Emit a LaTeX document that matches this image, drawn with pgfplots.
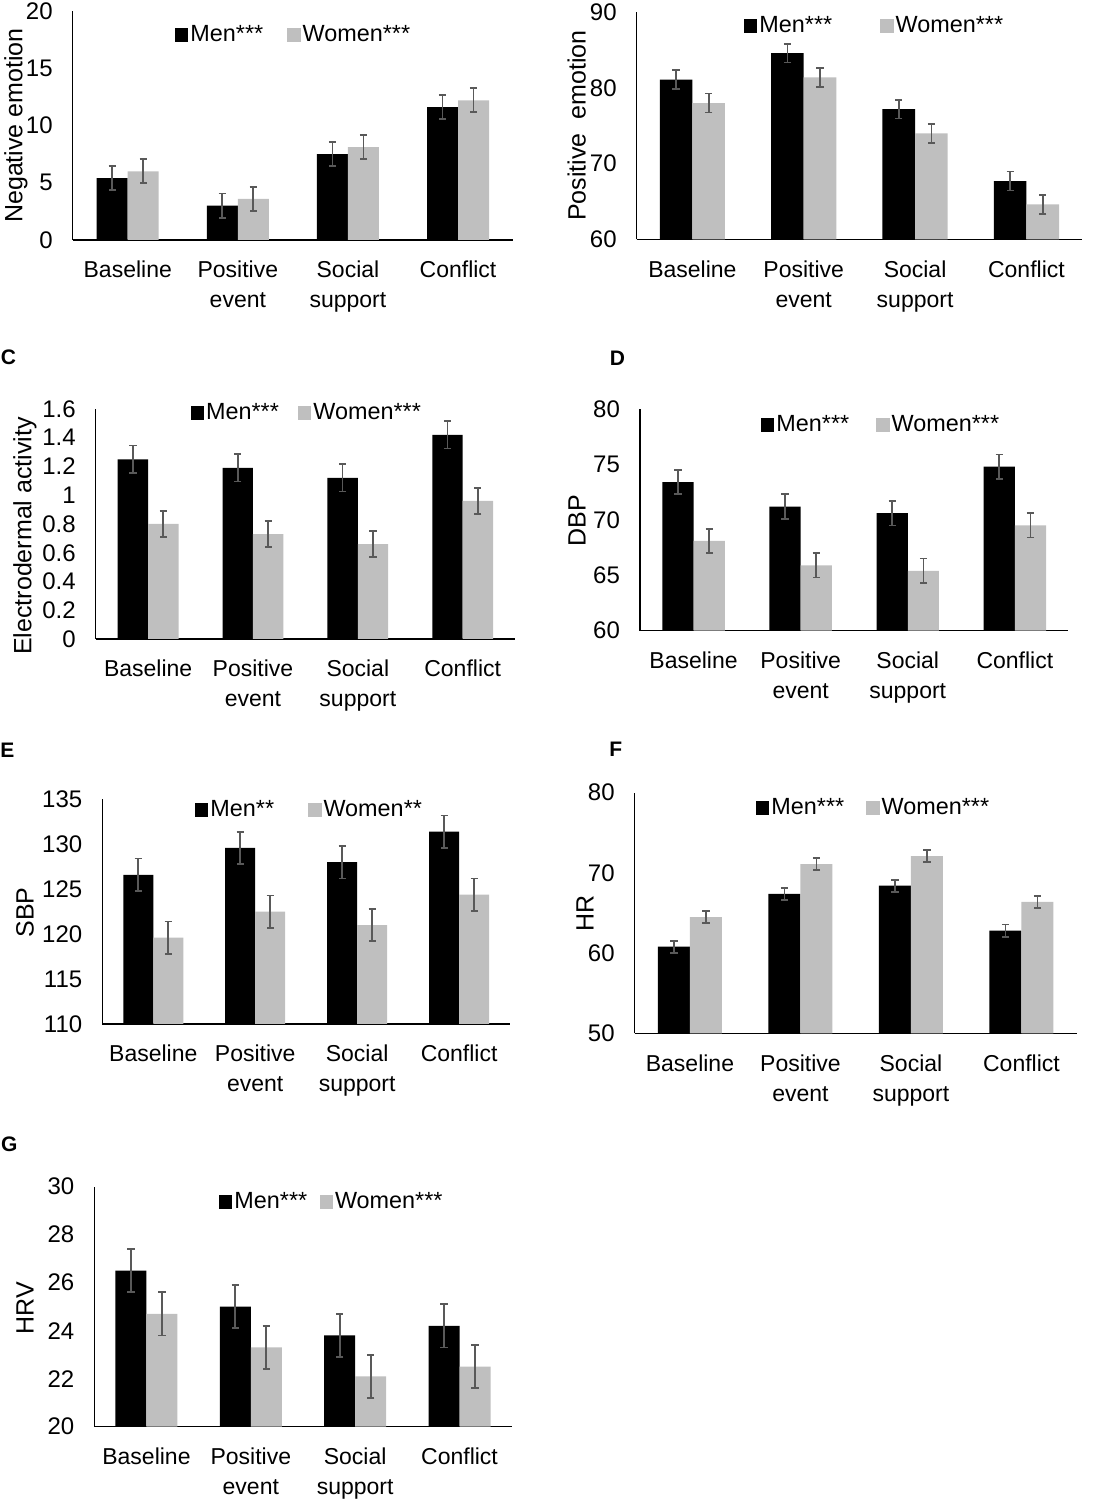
\documentclass[border=0pt]{standalone}
\usepackage{fontspec}
\setmainfont{Liberation Sans}
\usepackage{pgfplots}
\usepackage{pgfplotstable}
\pgfplotsset{compat=1.18}
\definecolor{wgray}{HTML}{BFBFBF}
\definecolor{egray}{HTML}{595959}

\pgfplotstableread{
x m me w we
0 5.4 1.05 6.0 1.05
1 3.0 1.05 3.6 1.05
2 7.5 1.05 8.1 1.05
3 11.6 1.05 12.2 1.05
}\tA
\pgfplotstableread{
x m me w we
0 81.1 1.25 78.0 1.25
1 84.6 1.25 81.4 1.25
2 77.2 1.25 74.0 1.25
3 67.7 1.25 64.6 1.25
}\tB
\pgfplotstableread{
x m me w we
0 1.25 0.095 0.80 0.09
1 1.19 0.095 0.73 0.09
2 1.12 0.095 0.66 0.09
3 1.42 0.095 0.96 0.09
}\tC
\pgfplotstableread{
x m me w we
0 73.4 1.1 68.1 1.1
1 71.2 1.1 65.9 1.1
2 70.6 1.1 65.4 1.1
3 74.8 1.1 69.5 1.1
}\tD
\pgfplotstableread{
x m me w we
0 126.6 1.8 119.6 1.8
1 129.6 1.8 122.5 1.8
2 128.0 1.8 121.0 1.8
3 131.4 1.8 124.4 1.8
}\tE
\pgfplotstableread{
x m me w we
0 60.8 0.75 64.5 0.75
1 67.4 0.75 71.1 0.75
2 68.4 0.75 72.1 0.75
3 62.8 0.75 66.4 0.75
}\tF
\pgfplotstableread{
x m me w we
0 26.5 0.9 24.7 0.9
1 25.0 0.9 23.3 0.9
2 23.8 0.9 22.1 0.9
3 24.2 0.9 22.5 0.9
}\tG

\pgfplotsset{
  sqlegend/.style={legend image code/.code={\fill[##1] (0pt,-3.5pt) rectangle (6.7pt,3.5pt);}},
  panel/.style={
    scale only axis,
    anchor=south west,
    ybar=0pt,
    sqlegend,
    axis x line*=bottom, axis y line*=left,
    axis line style={line width=0.6pt,-},
    xmin=-0.5, xmax=3.5,
    xtick={0,1,2,3},
    xticklabels={Baseline,{Positive\\event},{Social\\support},Conflict},
    major tick length=0pt,
    /pgf/number format/assume math mode=true,
    xticklabel style={align=center,font=\fontsize{11.5}{15}\selectfont,yshift=-7pt},
    yticklabel style={font=\fontsize{12}{14}\selectfont,xshift=-6.5pt},
    ylabel style={font=\fontsize{12.5}{15}\selectfont},
    legend columns=2,
    legend style={draw=none,fill=none,inner sep=0pt,outer sep=0pt,anchor=west,
      font=\fontsize{11.7}{14}\selectfont,nodes={inner ysep=0.5pt,inner xsep=1pt}},
  },
  ebar/.style={error bars/.cd, y dir=both, y explicit,
    error bar style={draw=egray,line width=0.85pt},
    error mark options={rotate=90,mark size=1.8pt,draw=egray,line width=0.85pt}},
  menbar/.style={fill=black,draw=none,sqlegend,ebar},
  wombar/.style={fill=wgray,draw=none,sqlegend,ebar},
}

\begin{document}
\begin{tikzpicture}
\useasboundingbox (0,0) rectangle (559pt,750pt);

% A
\begin{axis}[panel, at={(36.35pt,630pt)}, width=220.2pt, height=114.5pt,
  ymin=0, ymax=20, ytick={0,5,10,15,20}, bar width=15.5pt,
  ylabel={Negative emotion}, ylabel style={at={(axis description cs:-0.1288,0.5)},anchor=center},
  legend style={at={(0.2323,0.895)},/tikz/every even column/.append style={column sep=11pt}}]
\addplot[menbar] table[x=x,y=m,y error=me]{\tA};
\addlegendentry{Men***}
\addplot[wombar] table[x=x,y=w,y error=we]{\tA};
\addlegendentry{Women***}
\end{axis}

% B
\begin{axis}[panel, at={(318.35pt,630.35pt)}, width=222.7pt, height=113.5pt,
  ymin=60, ymax=90, ytick={60,70,80,90}, bar width=16.3pt,
  ylabel={Positive~~emotion}, ylabel style={at={(axis description cs:-0.1347,0.5)},anchor=center},
  legend style={at={(0.241,0.938)},/tikz/every even column/.append style={column sep=23pt}}]
\addplot[menbar] table[x=x,y=m,y error=me]{\tB};
\addlegendentry{Men***}
\addplot[wombar] table[x=x,y=w,y error=we]{\tB};
\addlegendentry{Women***}
\end{axis}

% C
\begin{axis}[panel, at={(47.85pt,430.5pt)}, width=209.7pt, height=115pt,
  ymin=0, ymax=1.6, ytick={0,0.2,0.4,0.6,0.8,1,1.2,1.4,1.6},
  yticklabels={0,0.2,0.4,0.6,0.8,1,1.2,1.4,1.6}, bar width=15.2pt,
  ylabel={Electrodermal activity}, ylabel style={at={(axis description cs:-0.1686,0.448)},anchor=center},
  legend style={at={(0.2266,0.9835)},/tikz/every even column/.append style={column sep=8.5pt}}]
\addplot[menbar] table[x=x,y=m,y error=me]{\tC};
\addlegendentry{Men***}
\addplot[wombar] table[x=x,y=w,y error=we]{\tC};
\addlegendentry{Women***}
\end{axis}

% D
\begin{axis}[panel, at={(320pt,434.65pt)}, width=214.2pt, height=110.85pt,
  ymin=60, ymax=80, ytick={60,65,70,75,80}, bar width=15.6pt,
  ylabel={DBP}, ylabel style={at={(axis description cs:-0.147,0.496)},anchor=center},
  legend style={at={(0.2825,0.927)},/tikz/every even column/.append style={column sep=12.5pt}}]
\addplot[menbar] table[x=x,y=m,y error=me]{\tD};
\addlegendentry{Men***}
\addplot[wombar] table[x=x,y=w,y error=we]{\tD};
\addlegendentry{Women***}
\end{axis}

% E
\begin{axis}[panel, at={(51.15pt,238pt)}, width=203.9pt, height=112.35pt,
  ymin=110, ymax=135, ytick={110,115,120,125,130,135}, bar width=15pt,
  ylabel={SBP}, ylabel style={at={(axis description cs:-0.1896,0.496)},anchor=center},
  legend style={at={(0.2274,0.952)},/tikz/every even column/.append style={column sep=16pt}}]
\addplot[menbar] table[x=x,y=m,y error=me]{\tE};
\addlegendentry{Men**}
\addplot[wombar] table[x=x,y=w,y error=we]{\tE};
\addlegendentry{Women**}
\end{axis}

% F
\begin{axis}[panel, at={(317.35pt,233.35pt)}, width=221pt, height=120.3pt,
  ymin=50, ymax=80, ytick={50,60,70,80}, bar width=16pt,
  ylabel={HR}, ylabel style={at={(axis description cs:-0.1124,0.4988)},anchor=center},
  legend style={at={(0.2744,0.937)},/tikz/every even column/.append style={column sep=10pt}}]
\addplot[menbar] table[x=x,y=m,y error=me]{\tF};
\addlegendentry{Men***}
\addplot[wombar] table[x=x,y=w,y error=we]{\tF};
\addlegendentry{Women***}
\end{axis}

% G
\begin{axis}[panel, at={(47.15pt,36.65pt)}, width=208.7pt, height=120pt,
  ymin=20, ymax=30, ytick={20,22,24,26,28,30}, bar width=15.5pt,
  ylabel={HRV}, ylabel style={at={(axis description cs:-0.166,0.4946)},anchor=center},
  legend style={at={(0.2988,0.935)},/tikz/every even column/.append style={column sep=5.2pt}}]
\addplot[menbar] table[x=x,y=m,y error=me]{\tG};
\addlegendentry{Men***}
\addplot[wombar] table[x=x,y=w,y error=we]{\tG};
\addlegendentry{Women***}
\end{axis}

% panel letters
\begin{scope}[every node/.style={font=\bfseries\fontsize{10.5}{12}\selectfont,inner sep=0pt}]
\node at (4.2pt,571.25pt) {C};
\node at (308.75pt,570.8pt) {D};
\node at (3.75pt,375pt) {E};
\node at (307.9pt,375.4pt) {F};
\node at (4.6pt,177.9pt) {G};
\end{scope}
\end{tikzpicture}
\end{document}
